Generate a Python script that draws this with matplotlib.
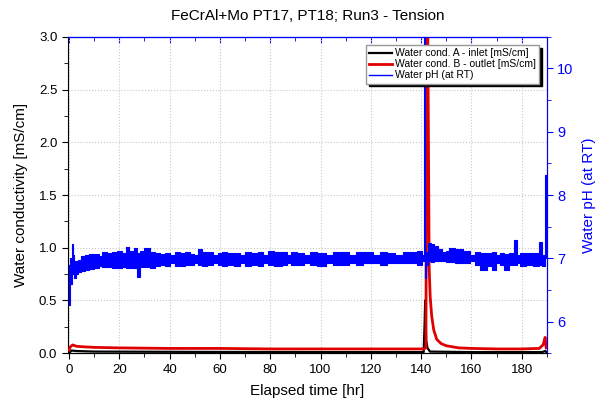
import matplotlib
matplotlib.use('Agg')
import matplotlib.pyplot as plt
from matplotlib.ticker import MultipleLocator

plt.rcParams['font.family'] = ['Liberation Sans', 'DejaVu Sans']

# conductivity A (inlet), mS/cm
t_a = [0, 1, 3, 10, 50, 100, 141, 141.4, 141.6, 142.0, 142.5, 143.5, 160, 188, 189.4, 189.8]
cond_a = [0.0, 0.025, 0.02, 0.015, 0.012, 0.01, 0.01, 0.3, 0.5, 0.12, 0.05, 0.015, 0.01, 0.01, 0.02, 0.01]

# conductivity B (outlet), mS/cm
t_b = [0, 0.5, 1.5, 3, 6, 10, 20, 40, 60, 80, 100, 120, 141, 141.9, 142.2, 142.6,
       143.2, 143.6, 144.2, 145, 146.2, 148, 150, 155, 160, 170, 180, 187, 188.5, 189.3, 189.7]
cond_b = [0.03, 0.06, 0.078, 0.065, 0.06, 0.055, 0.05, 0.045, 0.045, 0.04, 0.04, 0.04, 0.04,
          0.05, 3.2, 3.2, 0.8, 0.53, 0.35, 0.22, 0.13, 0.09, 0.07, 0.05, 0.045, 0.04, 0.04,
          0.045, 0.08, 0.15, 0.05]

# water pH: upper / lower envelope of the noisy trace
t_ph = [0.0, 0.3, 0.8, 1.3, 1.8, 2.3, 3.0, 4.0, 5.5, 7, 9, 11, 12.5, 14, 16, 18, 20, 22, 23,
        25, 26.5, 27.8, 29, 31, 33, 35, 37, 39, 41, 43, 45, 47, 49, 50.5, 52, 54, 56, 58.5,
        60, 61.5, 64, 67, 69, 71, 74, 76, 78, 80, 83, 86, 87.5, 89, 92, 95, 97, 100, 104,
        106, 110, 113, 115, 119, 122.5, 125, 128, 131.5, 134, 137, 140, 141.0, 141.3, 141.5,
        141.8, 142.2, 143, 144.5, 146, 147.5, 149, 150.5, 152, 155, 158, 160.5, 162, 165,
        167, 169, 170.5, 172, 174, 176, 177.6, 178.5, 180, 183, 186, 187.5, 188.5, 189.2,
        189.6, 190]
ph_hi = [6.9, 6.6, 7.0, 7.22, 7.05, 6.95, 6.95, 6.98, 7.03, 7.05, 7.06, 7.06, 7.04, 7.1, 7.08,
         7.1, 7.12, 7.08, 7.18, 7.12, 7.16, 7.08, 7.12, 7.16, 7.1, 7.08, 7.06, 7.08, 7.05, 7.1,
         7.08, 7.1, 7.06, 7.05, 7.14, 7.1, 7.1, 7.05, 7.08, 7.1, 7.08, 7.08, 7.05, 7.1, 7.08,
         7.1, 7.05, 7.12, 7.1, 7.1, 7.05, 7.1, 7.08, 7.05, 7.1, 7.08, 7.05, 7.1, 7.1, 7.05, 7.1,
         7.1, 7.05, 7.1, 7.08, 7.05, 7.1, 7.1, 7.12, 7.05, 10.8, 10.8, 7.0, 7.1, 7.24, 7.22,
         7.2, 7.15, 7.1, 7.12, 7.16, 7.14, 7.12, 7.05, 7.1, 7.08, 7.08, 7.1, 7.05, 7.08, 7.06,
         7.08, 7.29, 7.05, 7.08, 7.08, 7.08, 7.25, 7.05, 7.0, 8.32, 8.32]
ph_lo = [6.9, 6.26, 6.6, 6.85, 6.75, 6.69, 6.75, 6.78, 6.8, 6.82, 6.83, 6.84, 6.88, 6.86, 6.86,
         6.85, 6.84, 6.86, 6.85, 6.84, 6.85, 6.7, 6.86, 6.86, 6.84, 6.88, 6.9, 6.88, 6.93, 6.88,
         6.88, 6.9, 6.9, 6.93, 6.9, 6.88, 6.9, 6.93, 6.9, 6.88, 6.9, 6.88, 6.93, 6.88, 6.9,
         6.88, 6.93, 6.9, 6.88, 6.9, 6.93, 6.9, 6.9, 6.93, 6.9, 6.88, 6.93, 6.9, 6.9, 6.93, 6.9,
         6.92, 6.93, 6.9, 6.92, 6.93, 6.92, 6.92, 6.9, 6.95, 7.0, 6.69, 6.69, 6.9, 6.95, 6.94,
         6.95, 6.95, 6.95, 6.94, 6.94, 6.93, 6.93, 6.95, 6.9, 6.82, 6.88, 6.82, 6.93, 6.9, 6.82,
         6.9, 6.9, 6.93, 6.88, 6.9, 6.88, 6.9, 6.87, 6.87, 7.0, 7.5]

BLUE = '#0000ff'


def main():
    fig = plt.figure(figsize=(6.05, 4.05), dpi=100)
    ax = fig.add_axes([0.112, 0.128, 0.792, 0.781])

    ax.plot(t_a, cond_a, color='black', lw=1.6, label='Water cond. A - inlet [mS/cm]', zorder=3)
    ax.plot(t_b, cond_b, color='#e00000', lw=2.0, label='Water cond. B - outlet [mS/cm]', zorder=4)

    ax.set_xlim(-0.5, 190)
    ax.set_ylim(0, 3.0)
    ax.xaxis.set_major_locator(MultipleLocator(20))
    ax.xaxis.set_minor_locator(MultipleLocator(10))
    ax.yaxis.set_major_locator(MultipleLocator(0.5))
    ax.yaxis.set_minor_locator(MultipleLocator(0.25))
    ax.yaxis.set_major_formatter(plt.FormatStrFormatter('%.1f'))
    ax.tick_params(which='both', direction='out', labelsize=9.5)
    ax.tick_params(which='major', length=4)
    ax.tick_params(which='minor', length=3)
    ax.grid(True, which='major', color='#c8c8c8', ls=':', lw=0.8)
    ax.set_axisbelow(True)
    ax.spines['top'].set_color(BLUE)

    top = ax.secondary_xaxis('top')
    top.xaxis.set_major_locator(MultipleLocator(20))
    top.xaxis.set_minor_locator(MultipleLocator(10))
    top.tick_params(which='both', direction='in', labeltop=False, colors=BLUE)
    top.tick_params(which='major', length=4)
    top.tick_params(which='minor', length=3)
    top.spines['top'].set_color(BLUE)

    ax.set_xlabel('Elapsed time [hr]', fontsize=11, labelpad=6)
    ax.set_ylabel('Water conductivity [mS/cm]', fontsize=11, labelpad=8)
    ax.set_title('FeCrAl+Mo PT17, PT18; Run3 - Tension', fontsize=11, pad=12)

    ax2 = ax.twinx()
    ax2.fill_between(t_ph, ph_lo, ph_hi, step='mid', color=BLUE, lw=0.8,
                     edgecolor=BLUE, zorder=5)
    ax2.plot([], [], color=BLUE, lw=1.0, label='Water pH (at RT)')
    ax2.set_ylim(5.5, 10.5)
    ax2.yaxis.set_major_locator(MultipleLocator(1))
    ax2.yaxis.set_minor_locator(MultipleLocator(0.5))
    ax2.tick_params(which='both', direction='out', colors=BLUE, labelsize=10.5)
    ax2.tick_params(which='major', length=4)
    ax2.tick_params(which='minor', length=3)
    ax2.spines['right'].set_color(BLUE)
    ax2.spines['top'].set_color(BLUE)
    ax2.spines['left'].set_visible(False)
    ax2.set_ylabel('Water pH (at RT)', fontsize=11, color=BLUE, labelpad=6)

    h1, l1 = ax.get_legend_handles_labels()
    h2, l2 = ax2.get_legend_handles_labels()
    leg = ax2.legend(h1 + h2, l1 + l2, loc='upper right', bbox_to_anchor=(0.995, 0.99),
                     fontsize=7.5, handlelength=2.2, handletextpad=0.3, labelspacing=0.1,
                     borderpad=0.3, fancybox=False, framealpha=1, edgecolor='#999999',
                     shadow={'color': 'black', 'alpha': 1})
    leg.set_zorder(10)

    fig.savefig('out.png', dpi=100)
    plt.close(fig)


if __name__ == '__main__':
    main()
